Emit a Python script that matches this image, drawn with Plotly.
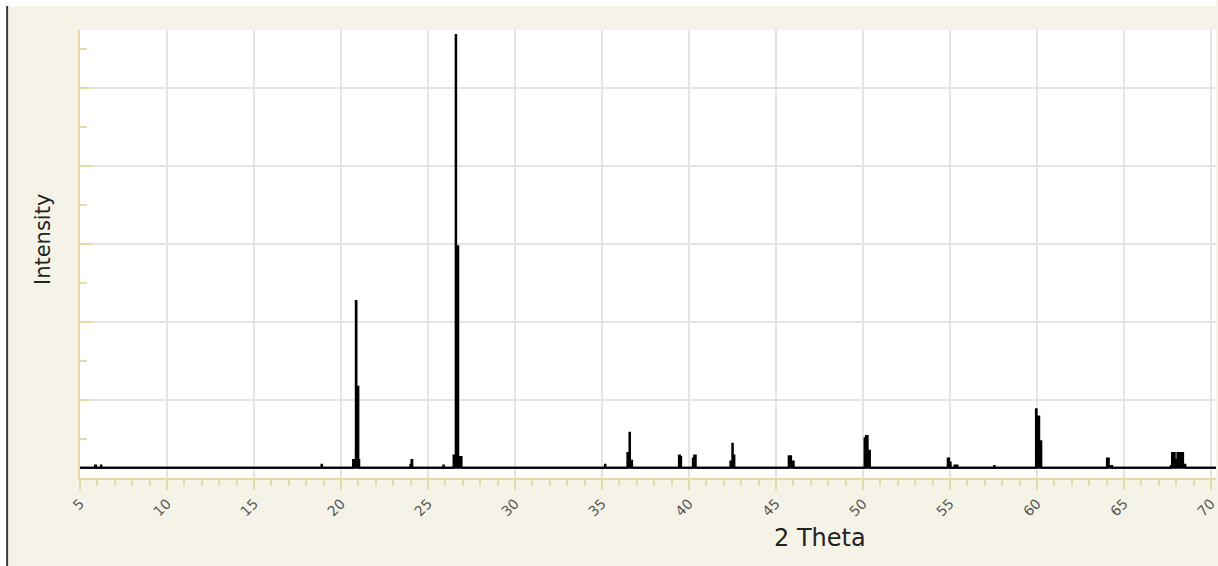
import plotly.graph_objects as go

# Step profile of the diffraction pattern (2 Theta in degrees, intensity in counts)
two_theta = [5.00, 5.86, 5.92, 6.20, 6.23, 18.88, 18.91,
             20.69, 20.85, 20.89, 21.00, 21.05,
             23.99, 24.05, 24.10, 25.88, 25.91,
             26.47, 26.59, 26.62, 26.74, 26.93,
             35.17, 35.20,
             36.46, 36.58, 36.61, 36.73,
             39.42, 39.48, 39.55,
             40.22, 40.30, 40.39,
             42.38, 42.49, 42.52, 42.61,
             45.73, 45.87, 46.02,
             50.09, 50.17, 50.27, 50.40,
             54.87, 54.95, 55.04, 55.26, 55.43,
             57.54, 57.57,
             59.94, 59.98, 60.13, 60.25,
             64.02, 64.13, 64.32,
             67.69, 67.76, 67.92, 68.07, 68.40, 68.53,
             70.29]
intensity = [130, 160, 130, 160, 130, 170, 130,
             230, 2270, 1170, 230, 130,
             170, 230, 130, 160, 130,
             290, 5680, 2970, 270, 130,
             170, 130,
             320, 580, 220, 130,
             290, 270, 130,
             250, 290, 130,
             210, 440, 290, 130,
             280, 210, 130,
             510, 540, 350, 130,
             250, 200, 130, 160, 130,
             155, 130,
             880, 790, 470, 130,
             250, 155, 130,
             155, 320, 230, 320, 170, 130,
             130]

# background level of the pattern
baseline_theta = [5.00, 70.29]
baseline_intensity = [130, 130]

x_title = "2 Theta"
y_title = "Intensity"

KHAKI = "#e4dba6"
GRID = "#e4e4e4"
BEIGE = "#f5f3e8"
FONT = "DejaVu Sans"

fig = go.Figure()
fig.add_trace(go.Scatter(
    x=baseline_theta, y=baseline_intensity, mode="lines",
    line=dict(color="black", width=2), hoverinfo="skip", showlegend=False))
fig.add_trace(go.Scatter(
    x=two_theta, y=intensity, mode="lines", line_shape="hv",
    fill="tonexty", fillcolor="black",
    line=dict(color="black", width=2), hoverinfo="skip", showlegend=False))

W, H = 1218, 566
L, R, T, B = 80, 0, 30, 88
pw, ph = W - L - R, H - T - B


def px(xp):
    return (xp - L) / pw


def py(yp):
    return (H - B - yp) / ph


fig.update_layout(
    width=W, height=H,
    margin=dict(l=L, r=R, t=T, b=B, pad=0),
    paper_bgcolor=BEIGE, plot_bgcolor="white",
    font=dict(family=FONT, color="#222"),
    xaxis=dict(
        range=[5, 5 + pw / 17.43], tick0=5, dtick=5,
        showgrid=True, gridcolor=GRID, gridwidth=2, zeroline=False,
        showline=True, linecolor=KHAKI, linewidth=2,
        ticks="outside", ticklen=10, tickwidth=2, tickcolor=KHAKI,
        minor=dict(dtick=1, ticks="outside", ticklen=6, tickwidth=2,
                   tickcolor=KHAKI, showgrid=False),
        tickangle=-45, ticklabeloverflow="allow",
        tickfont=dict(size=14, color="#555", family=FONT),
    ),
    yaxis=dict(
        range=[0, ph / 78 * 1000], tick0=0, dtick=1000,
        showticklabels=False,
        showgrid=True, gridcolor=GRID, gridwidth=2, zeroline=False,
        showline=True, linecolor=KHAKI, linewidth=2,
        ticks="inside", ticklen=12, tickwidth=2, tickcolor=KHAKI,
        minor=dict(dtick=500, ticks="inside", ticklen=7, tickwidth=2,
                   tickcolor=KHAKI, showgrid=False),
    ),
    annotations=[
        dict(text=x_title, xref="paper", yref="paper", x=px(821), y=py(538),
             xanchor="center", yanchor="middle", showarrow=False,
             font=dict(size=24, color="#222", family=FONT)),
        dict(text=y_title, xref="paper", yref="paper", x=px(43), y=py(240),
             xanchor="center", yanchor="middle", showarrow=False, textangle=-90,
             font=dict(size=21, color="#222", family=FONT)),
    ],
    shapes=[
        dict(type="rect", xref="paper", yref="paper", x0=px(0), x1=px(6),
             y0=py(H), y1=py(0), fillcolor="white", line=dict(width=0)),
        dict(type="rect", xref="paper", yref="paper", x0=px(0), x1=px(W),
             y0=py(6), y1=py(0), fillcolor="white", line=dict(width=0)),
        dict(type="line", xref="paper", yref="paper", x0=px(7), x1=px(7),
             y0=py(H), y1=py(6), line=dict(color="#3a3a3a", width=2)),
    ],
)

fig.write_html(
    "out.html", config={"displayModeBar": False},
    post_script="document.body.style.margin='0';document.body.style.overflow='hidden';")
